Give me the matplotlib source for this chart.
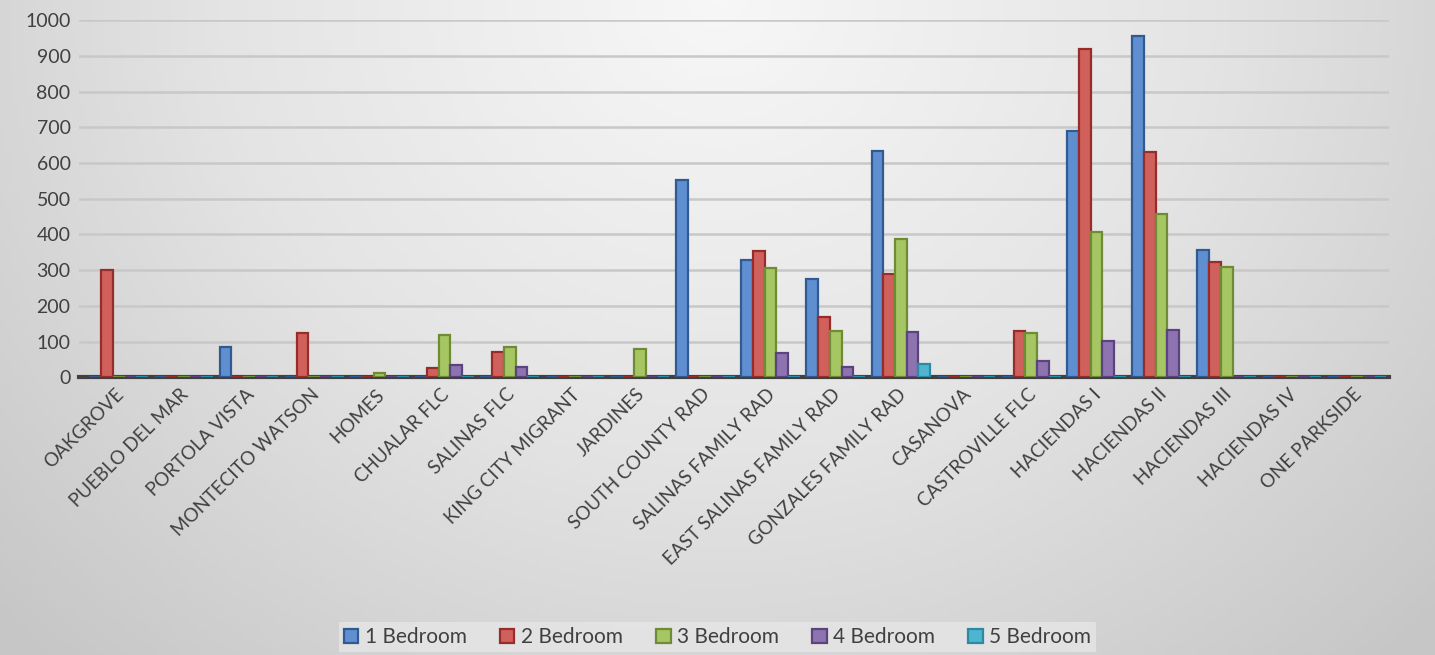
import numpy as np
import matplotlib.pyplot as plt
from matplotlib.colors import LinearSegmentedColormap

# housing sites and unit counts per bedroom size
sites = ['OAKGROVE', 'PUEBLO DEL MAR', 'PORTOLA VISTA', 'MONTECITO WATSON', 'HOMES',
         'CHUALAR FLC', 'SALINAS FLC', 'KING CITY MIGRANT', 'JARDINES', 'SOUTH COUNTY RAD',
         'SALINAS FAMILY RAD', 'EAST SALINAS FAMILY RAD', 'GONZALES FAMILY RAD', 'CASANOVA',
         'CASTROVILLE FLC', 'HACIENDAS I', 'HACIENDAS II', 'HACIENDAS III', 'HACIENDAS IV',
         'ONE PARKSIDE']
bed1 = [0, 0, 85, 0, 0, 0, 0, 0, 0, 552, 328, 275, 633, 0, 0, 690, 955, 357, 0, 0]
bed2 = [300, 0, 0, 124, 0, 25, 70, 0, 0, 0, 355, 170, 288, 0, 130, 920, 632, 323, 0, 0]
bed3 = [0, 0, 0, 0, 12, 118, 86, 0, 80, 0, 305, 130, 388, 0, 124, 407, 457, 310, 0, 0]
bed4 = [0, 0, 0, 0, 0, 33, 28, 0, 0, 0, 68, 30, 128, 0, 46, 102, 133, 0, 0, 0]
bed5 = [0, 0, 0, 0, 0, 0, 0, 0, 0, 0, 0, 0, 38, 0, 0, 0, 0, 0, 0, 0]
series = ['1 Bedroom', '2 Bedroom', '3 Bedroom', '4 Bedroom', '5 Bedroom']
yticks = [0, 100, 200, 300, 400, 500, 600, 700, 800, 900, 1000]

faces = ['#5f8fd0', '#d0605c', '#a5c663', '#8d74b0', '#50b4cf']
edges = ['#2f5a92', '#962d2a', '#6f8b35', '#5b437d', '#2b8aa6']

plt.rcParams['font.family'] = ['Lato', 'DejaVu Sans']

fig = plt.figure(figsize=(14.35, 6.55), dpi=100)

# grey gradient background, lighter toward the top centre
bg = fig.add_axes([0, 0, 1, 1], zorder=-10)
xx, yy = np.meshgrid(np.linspace(-1, 1, 300), np.linspace(0, 1, 150))
dist = np.sqrt((xx * 0.9) ** 2 + (yy * 0.9) ** 2)
cmap = LinearSegmentedColormap.from_list('bg', ['#f7f7f7', '#e4e4e4', '#c6c6c6'])
bg.imshow(dist, cmap=cmap, aspect='auto', extent=[0, 1, 0, 1], vmin=0, vmax=1.25,
          origin='upper')
bg.axis('off')

ax = fig.add_axes([0.055, 0.424, 0.913, 0.545])
ax.patch.set_alpha(0)

x = np.arange(len(sites))
w = 0.18
data = [bed1, bed2, bed3, bed4, bed5]
for i, vals in enumerate(data):
    pos = x + (i - 2) * w + 0.06
    # flat floor tile for every bar
    ax.bar(pos, 6, width=w, color=faces[i], edgecolor=edges[i], linewidth=0.6, zorder=2)
    ax.bar(pos, vals, width=w, color=faces[i], edgecolor=edges[i], linewidth=1.6,
           label=series[i], zorder=3)

ax.set_ylim(0, 1000)
ax.set_xlim(-0.55, len(sites) - 0.45)
ax.set_yticks(yticks)
ax.set_yticklabels([str(t) for t in yticks], fontsize=14, color='#404040')
ax.set_xticks(x)
ax.set_xticklabels(sites, rotation=45, ha='right', rotation_mode='anchor',
                   fontsize=13.5, color='#404040')
ax.tick_params(length=0, pad=6)
ax.yaxis.grid(True, color='#c8c8c8', linewidth=1.8, zorder=0)
ax.set_axisbelow(True)
for s in ['top', 'right', 'left']:
    ax.spines[s].set_visible(False)
ax.spines['bottom'].set_color('#404040')
ax.spines['bottom'].set_linewidth(3)

leg = fig.legend(loc='lower center', ncol=5, bbox_to_anchor=(0.5, -0.012), fontsize=15,
                 frameon=True, fancybox=False, handlelength=0.7, handleheight=0.7,
                 handletextpad=0.3, columnspacing=1.6, borderpad=0.25)
leg.get_frame().set_facecolor('#e6e6e6')
leg.get_frame().set_edgecolor('none')
for t in leg.get_texts():
    t.set_color('#404040')

fig.savefig('out.png', dpi=100)
